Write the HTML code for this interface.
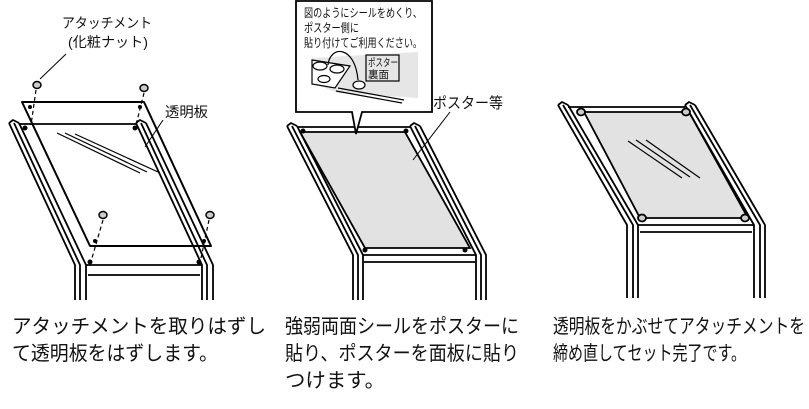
<!DOCTYPE html>
<html><head><meta charset="utf-8"><style>
html,body{margin:0;padding:0;background:#fff;width:809px;height:409px;overflow:hidden}
svg{display:block}
text{font-family:"Liberation Sans","Noto Sans CJK JP",sans-serif;fill:#111}
</style></head><body>
<svg width="809" height="409" viewBox="0 0 809 409" xmlns="http://www.w3.org/2000/svg">
<g fill="none" stroke="#000" stroke-width="1.8" stroke-linejoin="round">
<polyline points="9,123 75,265 75,300"/><polyline points="14,123 80,265 80,300"/><polyline points="19,123 86,265 86,300"/>
<path d="M9,123 L13,120 L19,123"/>
<polyline points="136,123 202,265 202,300"/><polyline points="141,123 207,265 207,300"/><polyline points="146,123 213,265 213,300"/>
<path d="M136,123 L140,120 L146,123"/>
<line x1="86" y1="265" x2="202" y2="265"/><line x1="88" y1="275" x2="200" y2="275"/>
<line x1="19" y1="124" x2="136" y2="124"/>
<polygon points="22,102 144,102 211,246 90,246" stroke-width="2"/>
<line x1="57" y1="133" x2="140" y2="173" stroke-width="1.2"/><line x1="65" y1="133" x2="147" y2="172" stroke-width="1.2"/><line x1="75" y1="134" x2="158" y2="172" stroke-width="1.2"/>
<g stroke-dasharray="4,3" stroke-width="1.2"><line x1="36" y1="90" x2="31" y2="125"/><line x1="144" y1="93" x2="136" y2="125"/><line x1="103" y1="220" x2="92" y2="258"/><line x1="209" y1="220" x2="201" y2="258"/></g>
<line x1="40" y1="79" x2="66" y2="54" stroke-width="1"/>
<line x1="145" y1="147" x2="163" y2="120" stroke-width="1"/>
</g>
<g fill="#000">
<circle cx="30" cy="107" r="2"/><circle cx="140" cy="107" r="2"/><circle cx="95" cy="241" r="2"/><circle cx="204" cy="241" r="2"/>
<circle cx="90" cy="262" r="2.5"/><circle cx="199" cy="262" r="2.5"/><circle cx="25" cy="128" r="2.5"/><circle cx="135" cy="128" r="2.5"/>
</g>
<g fill="#ccc" stroke="#000" stroke-width="1.5">
<ellipse cx="37" cy="85" rx="4" ry="3.5"/><ellipse cx="144" cy="88" rx="4" ry="3.5"/><ellipse cx="103" cy="215" rx="4" ry="3.5"/><ellipse cx="210" cy="215" rx="4" ry="3.5"/>
</g>
<text x="62" y="28" font-size="14" textLength="90" lengthAdjust="spacingAndGlyphs">アタッチメント</text>
<text x="68" y="47" font-size="14" textLength="80" lengthAdjust="spacingAndGlyphs">(化粧ナット)</text>
<text x="165" y="117" font-size="14" textLength="43" lengthAdjust="spacingAndGlyphs">透明板</text>

<polygon points="300,132 405,132 470,248 365,248" fill="#e2e2e2" stroke="#000" stroke-width="1.8"/>
<g fill="none" stroke="#000" stroke-width="1.8">
<polyline points="287,126 353,255 353,300"/><polyline points="292,126 358,255 358,300"/><polyline points="297,126 363,255 363,300"/>
<path d="M287,126 L291,123 L297,126"/>
<polyline points="410,126 476,255 476,300"/><polyline points="415,126 481,255 481,300"/><polyline points="420,126 486,255 486,300"/>
<path d="M410,126 L414,123 L420,126"/>
<line x1="297" y1="127" x2="410" y2="127"/>
<line x1="363" y1="255" x2="476" y2="255"/><line x1="364" y1="262" x2="475" y2="262"/>
<line x1="413" y1="160" x2="450" y2="112" stroke-width="1"/>
</g>
<g fill="#000"><circle cx="303" cy="131" r="2.5"/><circle cx="406" cy="131" r="2.5"/><circle cx="365" cy="250" r="2.5"/><circle cx="465" cy="250" r="2.5"/></g>
<path d="M296,1 L432,1 L432,112 L362,112 L356,134 L352,112 L296,112 Z" fill="#fff" stroke="#000" stroke-width="1.8"/>
<text x="304" y="17" font-size="12" textLength="118" lengthAdjust="spacingAndGlyphs">図のようにシールをめくり、</text>
<text x="304" y="32" font-size="12" textLength="55" lengthAdjust="spacingAndGlyphs">ポスター側に</text>
<text x="304" y="47" font-size="12" textLength="118" lengthAdjust="spacingAndGlyphs">貼り付けてご利用ください。</text>
<g stroke="#000" stroke-width="1.2">
<polygon points="312,58 418,52 418,98 338,93 312,83" fill="#e6e6e6" stroke="none"/>
<polygon points="312,60 350,66 335,88 312,84" fill="#fff"/>
<line x1="336" y1="91" x2="402" y2="103"/><line x1="338" y1="88" x2="404" y2="100"/>
<ellipse cx="320" cy="66" rx="7" ry="4" fill="#fff"/><ellipse cx="337" cy="69" rx="7" ry="4" fill="#fff"/><ellipse cx="324" cy="79" rx="6" ry="3.5" fill="#fff"/>
<ellipse cx="359" cy="85" rx="6" ry="4" fill="#fff"/>
<path d="M328,65 C330,45 355,45 358,80" fill="none"/>
<rect x="366" y="55" width="33" height="26" fill="#e6e6e6"/>
</g>
<text x="368" y="66" font-size="10.5" textLength="30" lengthAdjust="spacingAndGlyphs">ポスター</text>
<text x="368" y="78" font-size="10.5">裏面</text>
<text x="433" y="108" font-size="15" textLength="70" lengthAdjust="spacingAndGlyphs">ポスター等</text>

<polygon points="584,112 689,112 748,218 640,218" fill="#e2e2e2" stroke="#000" stroke-width="1.8"/>
<g fill="none" stroke="#000" stroke-width="1.8">
<polyline points="558,105 627,225 627,298"/><polyline points="563,105 633,225 633,298"/><polyline points="568,105 638,225 638,298"/>
<path d="M558,105 L562,102 L568,105"/>
<polyline points="685,105 754,225 754,298"/><polyline points="690,105 760,225 760,298"/><polyline points="695,105 765,225 765,298"/>
<path d="M685,105 L689,102 L695,105"/>
<line x1="568" y1="107" x2="685" y2="107"/>
<line x1="638" y1="225" x2="754" y2="225"/><line x1="640" y1="232" x2="752" y2="232"/>
<g stroke-width="1.2"><line x1="628" y1="141" x2="682" y2="178"/><line x1="636" y1="140" x2="690" y2="177"/><line x1="646" y1="140" x2="700" y2="178"/></g>
</g>
<g fill="#ccc" stroke="#000" stroke-width="1.8">
<ellipse cx="581" cy="112" rx="4" ry="3.5"/><ellipse cx="686" cy="112" rx="4" ry="3.5"/><ellipse cx="642" cy="218" rx="4" ry="3.5"/><ellipse cx="745" cy="218" rx="4" ry="3.5"/>
</g>

<g font-size="20" lengthAdjust="spacingAndGlyphs">
<text x="12" y="333" textLength="254" lengthAdjust="spacingAndGlyphs">アタッチメントを取りはずし</text>
<text x="12" y="360" textLength="206" lengthAdjust="spacingAndGlyphs">て透明板をはずします。</text>
<text x="285" y="333" textLength="234" lengthAdjust="spacingAndGlyphs">強弱両面シールをポスターに</text>
<text x="285" y="360" textLength="234" lengthAdjust="spacingAndGlyphs">貼り、ポスターを面板に貼り</text>
<text x="285" y="387" textLength="100" lengthAdjust="spacingAndGlyphs">つけます。</text>
<text x="553" y="333" textLength="252" lengthAdjust="spacingAndGlyphs">透明板をかぶせてアタッチメントを</text>
<text x="553" y="360" textLength="193" lengthAdjust="spacingAndGlyphs">締め直してセット完了です。</text>
</g>
</svg>
</body></html>
